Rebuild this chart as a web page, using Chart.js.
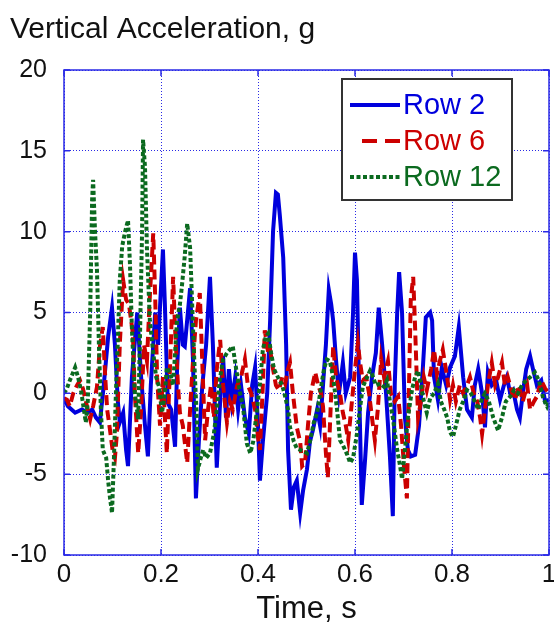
<!DOCTYPE html>
<html>
<head>
<meta charset="utf-8">
<script src="https://cdn.jsdelivr.net/npm/chart.js@4.4.1/dist/chart.umd.min.js"></script>
<style>
  body { margin: 0; background: #fff; }
  canvas { display: block; }
</style>
</head>
<body>
<canvas id="myChart" width="554" height="631"></canvas>
<script>
// time axis ticks and labels
var xTickLabels = ['0', '0.2', '0.4', '0.6', '0.8', '1'];
var yTickLabels = ['-10', '-5', '0', '5', '10', '15', '20'];
var seriesNames = ['Row 2', 'Row 6', 'Row 12'];

// Row 2
var row2Time = [0,0.008,0.023,0.037,0.049,0.058,0.066,0.074,0.082,0.091,
  0.099,0.105,0.111,0.115,0.122,0.128,0.132,0.140,0.151,0.159,
  0.167,0.173,0.179,0.188,0.194,0.204,0.208,0.214,0.221,0.229,
  0.233,0.239,0.245,0.249,0.260,0.266,0.272,0.278,0.285,0.293,
  0.301,0.307,0.315,0.322,0.328,0.334,0.340,0.346,0.353,0.359,
  0.365,0.373,0.381,0.388,0.394,0.400,0.404,0.410,0.419,0.425,
  0.431,0.437,0.441,0.445,0.452,0.458,0.462,0.468,0.474,0.480,
  0.487,0.493,0.501,0.507,0.513,0.522,0.528,0.534,0.540,0.546,
  0.551,0.555,0.561,0.567,0.575,0.581,0.590,0.596,0.600,0.604,
  0.608,0.614,0.621,0.627,0.635,0.643,0.649,0.656,0.664,0.672,
  0.678,0.682,0.687,0.691,0.697,0.703,0.709,0.715,0.724,0.732,
  0.740,0.746,0.755,0.759,0.763,0.771,0.779,0.788,0.796,0.806,
  0.814,0.823,0.831,0.841,0.847,0.854,0.862,0.868,0.874,0.882,
  0.891,0.899,0.907,0.913,0.920,0.926,0.934,0.940,0.946,0.953,
  0.961,0.967,0.975,0.984,0.992,1.0];
var row2Values = [-0.3,-0.8,-1.2,-1.0,-1.2,-1.0,-1.5,-1.8,0.5,3.5,
  5.3,3.0,-0.5,-1.8,-1.2,-3.5,-4.5,1.0,5.0,1.0,
  -2.0,-3.9,0.5,5.0,3.0,8.9,5.5,-0.6,-1.0,-3.3,
  1.4,5.3,3.0,2.9,6.5,2.0,-6.5,-3.0,0.4,3.0,
  7.2,3.0,-4.6,-0.5,2.3,-1.5,1.5,-0.5,1.0,-1.0,
  0.5,-1.5,-2.5,0.5,1.6,-2.0,-5.4,-3.0,0.0,4.5,
  10.0,12.4,12.3,11.0,8.4,3.0,-3.5,-7.2,-5.8,-5.4,
  -7.4,-6.0,-4.7,-3.0,-2.3,-1.0,-2.0,0.5,3.0,6.4,
  5.5,4.5,2.0,0.0,1.9,0.0,1.0,5.0,8.7,7.0,
  1.0,-6.9,-4.0,-1.2,1.0,2.5,5.3,3.0,0.0,-3.9,
  -7.6,0.6,5.0,7.5,5.0,-1.5,-3.5,-3.9,-3.8,-2.0,
  1.6,4.7,5.0,4.5,1.0,-0.4,1.6,0.5,1.6,2.3,
  4.1,1.0,-1.0,-1.5,0.5,1.5,0.0,-2.1,1.3,0.5,
  0.8,-0.4,0.5,1.0,0.0,0.2,-1.0,-1.5,0.0,1.5,
  2.3,1.5,0.5,0.8,-0.5,-0.4];

// Row 6
var row6Time = [0,0.006,0.012,0.019,0.027,0.033,0.039,0.045,0.054,0.060,
  0.068,0.074,0.080,0.085,0.089,0.095,0.101,0.105,0.109,0.115,
  0.122,0.128,0.134,0.142,0.146,0.153,0.159,0.165,0.171,0.177,
  0.184,0.188,0.192,0.198,0.204,0.208,0.212,0.219,0.225,0.229,
  0.235,0.239,0.245,0.254,0.260,0.266,0.272,0.280,0.285,0.291,
  0.297,0.303,0.309,0.315,0.322,0.328,0.336,0.342,0.348,0.357,
  0.365,0.373,0.379,0.386,0.394,0.400,0.404,0.410,0.414,0.421,
  0.425,0.431,0.437,0.443,0.450,0.456,0.462,0.466,0.472,0.480,
  0.487,0.491,0.497,0.503,0.509,0.518,0.524,0.530,0.534,0.540,
  0.544,0.551,0.555,0.561,0.569,0.575,0.581,0.586,0.594,0.600,
  0.606,0.610,0.616,0.623,0.629,0.635,0.641,0.647,0.654,0.660,
  0.668,0.674,0.682,0.689,0.695,0.701,0.707,0.711,0.715,0.720,
  0.724,0.730,0.736,0.742,0.748,0.757,0.763,0.769,0.775,0.781,
  0.790,0.796,0.802,0.808,0.816,0.823,0.831,0.837,0.845,0.852,
  0.858,0.862,0.868,0.874,0.882,0.889,0.895,0.903,0.909,0.915,
  0.924,0.930,0.938,0.946,0.955,0.961,0.969,0.975,0.984,0.992,
  1.0];
var row6Values = [-0.3,-0.4,-0.8,0.0,0.5,0.8,0.3,-0.5,-1.6,-0.8,
  0.4,2.9,4.1,1.0,-1.0,-2.3,-3.7,-4.0,-2.5,3.0,
  7.0,5.8,5.5,3.7,0.0,-3.7,-1.0,3.0,2.0,6.0,
  9.9,6.0,1.0,-2.0,1.0,-1.5,-3.7,2.0,7.2,4.0,
  0.5,-1.2,-2.0,-4.3,-1.0,2.0,4.5,6.2,2.0,-2.9,
  -1.0,0.5,-1.5,1.5,3.3,0.5,-1.8,-0.5,-1.0,0.5,
  1.0,2.1,0.5,0.0,-1.0,-2.7,-3.5,0.5,3.9,2.5,
  2.7,1.5,0.5,0.2,1.0,0.6,1.5,1.9,0.0,-2.1,
  -3.0,-4.5,-4.3,-2.0,0.0,1.3,0.5,0.0,-0.8,-3.7,
  -5.2,0.0,2.9,1.0,0.0,-1.2,-2.0,-2.9,-0.4,1.5,
  3.1,2.0,0.8,1.0,0.0,-1.5,-2.9,-1.0,2.1,1.0,
  2.0,0.0,-0.5,-0.2,-2.0,-4.5,-6.5,0.0,5.8,7.2,
  4.0,-1.5,-0.5,1.0,0.2,1.5,2.7,1.2,2.0,2.7,
  1.0,-0.4,0.5,-0.5,0.5,0.0,0.5,1.0,0.0,-0.5,
  -1.5,-2.5,-1.0,0.5,1.9,0.5,1.0,1.9,0.5,1.0,
  0.0,-0.4,0.5,-0.5,0.5,-1.0,-0.5,-0.2,0.8,0.3,
  0.0];

// Row 12
var row12Time = [0,0.006,0.012,0.019,0.023,0.029,0.035,0.041,0.045,0.049,
  0.054,0.058,0.060,0.064,0.068,0.072,0.076,0.080,0.087,0.091,
  0.095,0.099,0.103,0.107,0.111,0.115,0.120,0.126,0.132,0.136,
  0.140,0.146,0.153,0.157,0.161,0.163,0.167,0.171,0.177,0.184,
  0.190,0.196,0.202,0.208,0.212,0.219,0.225,0.233,0.239,0.243,
  0.249,0.254,0.260,0.266,0.270,0.274,0.276,0.282,0.287,0.293,
  0.301,0.309,0.315,0.322,0.328,0.336,0.342,0.348,0.355,0.363,
  0.369,0.377,0.384,0.390,0.396,0.404,0.410,0.416,0.421,0.427,
  0.433,0.441,0.450,0.456,0.462,0.466,0.474,0.480,0.487,0.495,
  0.501,0.507,0.515,0.522,0.528,0.536,0.542,0.548,0.555,0.563,
  0.569,0.575,0.584,0.590,0.596,0.604,0.610,0.616,0.625,0.631,
  0.635,0.643,0.652,0.660,0.666,0.672,0.678,0.687,0.693,0.697,
  0.703,0.709,0.718,0.724,0.730,0.736,0.742,0.748,0.755,0.763,
  0.771,0.777,0.784,0.790,0.796,0.802,0.808,0.816,0.823,0.831,
  0.839,0.847,0.854,0.862,0.868,0.876,0.885,0.895,0.903,0.911,
  0.920,0.928,0.936,0.944,0.953,0.961,0.971,0.979,0.988,0.996,
  1.0];
var row12Values = [0.0,0.3,0.8,1.3,1.6,1.0,0.2,-1.0,-1.8,-0.5,
  5.0,12.0,13.2,10.0,7.6,3.0,-1.0,-3.5,-4.0,-5.4,
  -6.5,-7.4,-4.0,0.0,3.3,7.0,9.1,10.0,10.7,8.0,
  4.0,0.0,-1.6,4.0,10.0,15.7,14.0,9.0,4.5,2.5,
  1.0,0.4,-1.2,0.0,1.6,1.2,0.5,4.5,5.5,6.6,
  8.5,10.5,9.0,4.1,1.0,-1.6,-4.7,-4.0,-3.5,-4.0,
  -3.7,-2.5,-1.0,1.0,2.1,2.5,2.7,2.9,1.5,0.0,
  -0.8,-3.1,-3.7,-3.0,-1.5,0.6,2.7,3.5,3.7,2.5,
  1.5,1.0,0.5,-0.2,-1.0,-2.1,-3.0,-3.4,-3.5,-3.6,
  -3.7,-3.0,-1.8,-1.2,0.0,1.5,2.1,2.0,1.0,-1.0,
  -2.9,-3.2,-3.8,-4.3,-4.0,-2.5,-1.0,0.4,1.0,1.4,
  1.2,0.5,0.6,0.4,0.8,-0.5,-1.5,-3.5,-4.5,-5.3,
  -3.5,-1.5,0.3,1.0,1.4,0.5,-0.5,-1.2,-0.3,0.0,
  0.6,-0.5,-1.0,-1.5,-2.4,-2.7,-2.0,-1.0,-0.5,0.2,
  0.0,-0.5,-1.0,-0.3,0.0,-0.5,-1.5,-2.3,-1.5,-0.5,
  -0.2,0.2,0.0,0.5,0.8,1.0,1.3,0.8,-0.3,-0.8,
  -0.5];

var blue = '#0000dd';
var red = '#cc0000';
var green = '#0b6a1f';
var axisBlue = '#2a2ae6';
var fontName = '"Liberation Sans", Arial, sans-serif';

function toPoints(times, values) {
  var pts = [];
  for (var i = 0; i < Math.min(times.length, values.length); i++) {
    pts.push({x: times[i], y: values[i]});
  }
  return pts;
}

var lineStyles = [
  {color: blue, dash: []},
  {color: red, dash: [10, 5]},
  {color: green, dash: [4, 2.5]}
];

var extras = {
  id: 'extras',
  afterDatasetsDraw(chart) {
    var ctx = chart.ctx;
    var a = chart.chartArea;
    var xs = chart.scales.x, ys = chart.scales.y;
    ctx.save();
    // frame
    ctx.strokeStyle = axisBlue;
    ctx.lineWidth = 1.5;
    ctx.setLineDash([]);
    ctx.strokeRect(a.left, a.top, a.right - a.left, a.bottom - a.top);
    // ticks pointing in
    ctx.beginPath();
    xs.ticks.forEach(function(t) {
      var p = xs.getPixelForValue(t.value);
      ctx.moveTo(p, a.bottom); ctx.lineTo(p, a.bottom - 6);
      ctx.moveTo(p, a.top); ctx.lineTo(p, a.top + 6);
    });
    ys.ticks.forEach(function(t) {
      var p = ys.getPixelForValue(t.value);
      ctx.moveTo(a.left, p); ctx.lineTo(a.left + 6, p);
      ctx.moveTo(a.right, p); ctx.lineTo(a.right - 6, p);
    });
    ctx.stroke();

    // legend box
    var bx = 342, by = 79, bw = 170, bh = 121;
    ctx.fillStyle = '#fff';
    ctx.fillRect(bx, by, bw, bh);
    ctx.strokeStyle = '#333';
    ctx.lineWidth = 2;
    ctx.strokeRect(bx, by, bw, bh);
    ctx.font = '29px ' + fontName;
    ctx.textBaseline = 'middle';
    ctx.textAlign = 'left';
    var rowsY = [105, 141, 177];
    for (var i = 0; i < seriesNames.length; i++) {
      var st = lineStyles[i];
      ctx.strokeStyle = st.color;
      ctx.lineWidth = 4;
      ctx.setLineDash(i === 1 ? [15, 8] : st.dash);
      ctx.beginPath();
      ctx.moveTo(i === 1 ? 362 : 350, rowsY[i]);
      ctx.lineTo(400, rowsY[i]);
      ctx.stroke();
      ctx.setLineDash([]);
      ctx.fillStyle = st.color;
      ctx.fillText(seriesNames[i], 403, rowsY[i] + 1);
    }
    ctx.restore();
  },
  afterDraw(chart) {
    var ctx = chart.ctx;
    ctx.save();
    ctx.fillStyle = '#111';
    ctx.font = '30px ' + fontName;
    ctx.textBaseline = 'alphabetic';
    ctx.textAlign = 'left';
    ctx.fillText('Vertical Acceleration, g', 10, 38);
    ctx.restore();
  }
};

var myChart = document.getElementById('myChart');

var accelChart = new Chart(myChart, {
  type: 'line',
  data: {
    datasets: [
      {label: seriesNames[0], data: toPoints(row2Time, row2Values), borderColor: blue, borderWidth: 4, order: 3},
      {label: seriesNames[1], data: toPoints(row6Time, row6Values), borderColor: red, borderWidth: 4, borderDash: lineStyles[1].dash, order: 2},
      {label: seriesNames[2], data: toPoints(row12Time, row12Values), borderColor: green, borderWidth: 4, borderDash: lineStyles[2].dash, order: 1}
    ]
  },
  options: {
    responsive: false,
    animation: false,
    devicePixelRatio: 1,
    layout: {padding: {top: 70, right: 5, bottom: 0, left: 0}},
    elements: {point: {radius: 0}, line: {tension: 0, fill: false}},
    plugins: {legend: {display: false}, tooltip: {enabled: false}},
    scales: {
      x: {
        type: 'linear', min: 0, max: 1,
        afterBuildTicks: function(s) { s.ticks = xTickLabels.map(function(l) { return {value: parseFloat(l)}; }); },
        ticks: {
          color: '#111', padding: 4, maxRotation: 0,
          font: {family: fontName, size: 26},
          callback: function(v, i) { return xTickLabels[i]; }
        },
        grid: {color: axisBlue, lineWidth: 1, drawTicks: false},
        border: {display: false, dash: [1, 2]},
        title: {display: true, text: 'Time, s', color: '#111', font: {family: fontName, size: 31}, padding: {top: 0, bottom: 3}},
        afterFit: function(s) { s.height = 76; s.paddingLeft = 0; s.paddingRight = 0; }
      },
      y: {
        type: 'linear', min: -10, max: 20,
        afterBuildTicks: function(s) { s.ticks = yTickLabels.map(function(l) { return {value: parseFloat(l)}; }); },
        ticks: {
          color: '#111', padding: 17,
          font: {family: fontName, size: 25},
          callback: function(v, i) { return yTickLabels[i]; }
        },
        grid: {color: axisBlue, lineWidth: 1, drawTicks: false},
        border: {display: false, dash: [1, 2]},
        afterFit: function(s) { s.width = 64; s.paddingTop = 0; s.paddingBottom = 0; }
      }
    }
  },
  plugins: [extras]
});
</script>
</body>
</html>
